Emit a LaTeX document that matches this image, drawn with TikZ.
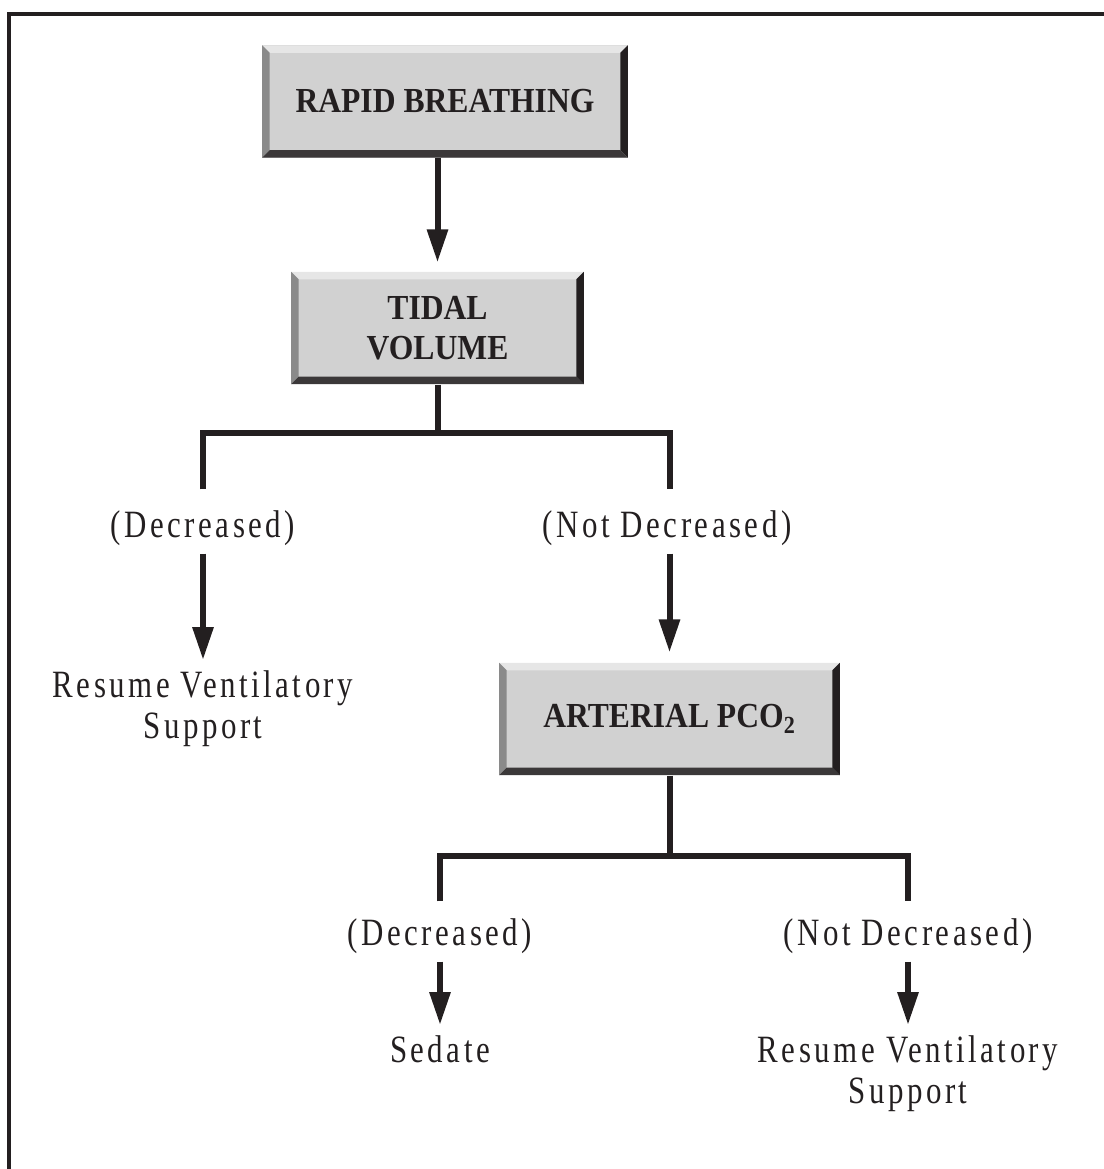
\documentclass[tikz,border=0pt]{standalone}
\usepackage{fontspec}
\setmainfont{Liberation Serif}
\newfontfamily\lblfont{Liberation Serif}[FakeStretch=0.8,LetterSpace=9]
\newfontfamily\boxfont{Liberation Serif}[FakeStretch=0.9]
\usetikzlibrary{arrows.meta,calc}
\definecolor{ink}{HTML}{231F20}
\definecolor{boxface}{HTML}{D1D1D1}
\definecolor{bevtop}{HTML}{E6E6E6}
\definecolor{bevleft}{HTML}{8A8A8A}
\definecolor{bevright}{HTML}{231F20}
\definecolor{bevbot}{HTML}{3B3839}
\begin{document}
\begin{tikzpicture}[x=0.02cm,y=-0.02cm,line join=miter,>={Triangle[width=0.4cm,length=0.66cm]},
	wire/.style={draw=ink,line width=0.12cm},
	arr/.style={wire,->},
	choice/.style={font=\lblfont\fontsize{22}{23.5}\selectfont,text=ink,inner sep=0pt,text height=0.57cm,text depth=0.16cm},
	outcome/.style={font=\lblfont\fontsize{22}{23.5}\selectfont,text=ink,align=center,inner sep=0pt},
	bevelbox/.style={rectangle,fill=boxface,minimum height=2.25cm,align=center,text=ink,
		font=\boxfont\bfseries\fontsize{20}{22.8}\selectfont,
		path picture={
			\coordinate (nw) at (path picture bounding box.north west);
			\coordinate (ne) at (path picture bounding box.north east);
			\coordinate (sw) at (path picture bounding box.south west);
			\coordinate (se) at (path picture bounding box.south east);
			\fill[bevtop] (nw) -- (ne) -- ([shift={(-\bv,-\bv)}]ne) -- ([shift={(\bv,-\bv)}]nw) -- cycle;
			\fill[bevleft] (nw) -- ([shift={(\bv,-\bv)}]nw) -- ([shift={(\bv,\bv)}]sw) -- (sw) -- cycle;
			\fill[bevright] (ne) -- (se) -- ([shift={(-\bv,\bv)}]se) -- ([shift={(-\bv,-\bv)}]ne) -- cycle;
			\fill[bevbot] (sw) -- (se) -- ([shift={(-\bv,\bv)}]se) -- ([shift={(\bv,\bv)}]sw) -- cycle;
		}}]
	\def\bv{0.15cm}
	\useasboundingbox (0,0) rectangle (1104,1169);
	% frame, cut off on the right and at the bottom
	\draw[ink,line width=0.08cm] (9,1169) -- (9,14) -- (1104,14);

	\node[bevelbox,minimum width=7.32cm] (rb) at (445,101.5) {RAPID BREATHING};
	\node[bevelbox,minimum width=5.86cm] (tv) at (437.5,328) {TIDAL\\VOLUME};
	\node[choice] (dec1) at (203,527) {(Decreased)};
	\node[choice] (nd1) at (667,527) {(Not Decreased)};
	\node[outcome,anchor=north] (rv1) at (203,670) {Resume Ventilatory\\Support};
	\node[bevelbox,minimum width=6.82cm] (pco) at (669.5,719) {ARTERIAL PCO\textsubscript{2}};
	\node[choice] (dec2) at (440,935) {(Decreased)};
	\node[choice] (nd2) at (908,935) {(Not Decreased)};
	\node[outcome,anchor=north] (sed) at (440,1035) {Sedate};
	\node[outcome,anchor=north] (rv2) at (908,1035) {Resume Ventilatory\\Support};

	\coordinate (j1) at (437.5,433);
	\coordinate (j2) at (669.5,856);

	\draw[arr,shorten >=0.18cm] (rb.south -| tv.north) -- (tv.north);
	\draw[wire] (tv.south) -- (j1);
	\draw[wire,shorten <=0.38cm,shorten >=0.38cm] (dec1.north) |- (j1) -| (nd1.north -| pco.north);
	\draw[arr,shorten <=0.16cm,shorten >=0.2cm] (dec1.south) -- (rv1.north);
	\draw[arr,shorten <=0.16cm,shorten >=0.2cm] (nd1.south -| pco.north) -- (pco.north);

	\draw[wire] (pco.south) -- (j2);
	\draw[wire,shorten <=0.3cm,shorten >=0.3cm] (dec2.north) |- (j2) -| (nd2.north -| rv2.north);
	\draw[arr,shorten <=0.16cm,shorten >=0.2cm] (dec2.south) -- (sed.north);
	\draw[arr,shorten <=0.16cm,shorten >=0.2cm] (nd2.south -| rv2.north) -- (rv2.north);
\end{tikzpicture}
\end{document}
